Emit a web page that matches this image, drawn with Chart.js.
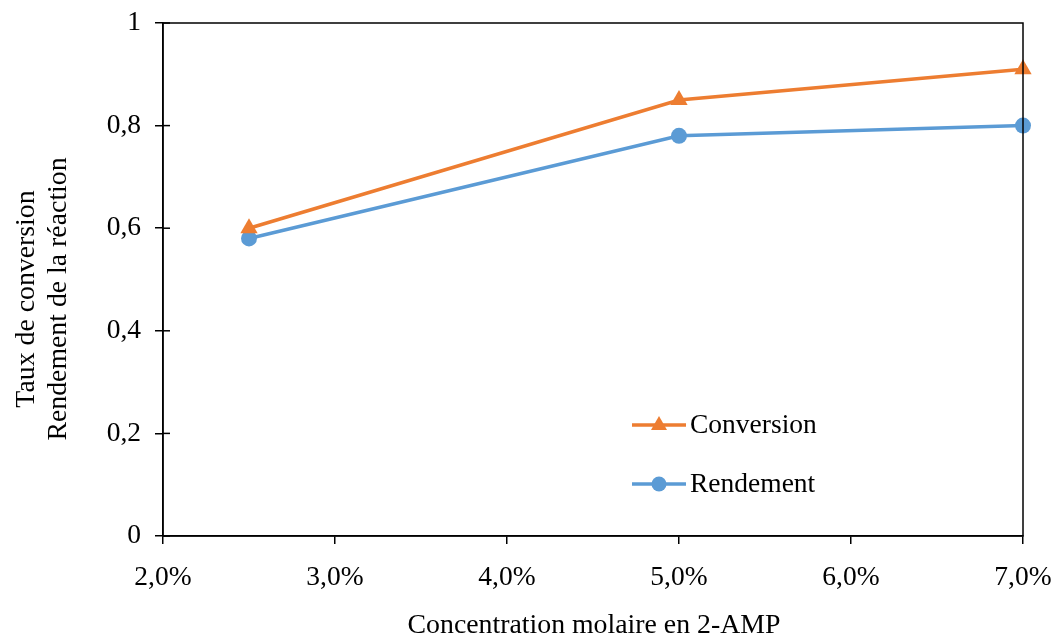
<!DOCTYPE html>
<html>
<head>
<meta charset="utf-8">
<script src="https://cdn.jsdelivr.net/npm/chart.js@4/dist/chart.umd.min.js"></script>
<style>
  html, body { margin: 0; padding: 0; background: #fff; }
  #wrap { width: 1053px; height: 639px; }
</style>
</head>
<body>
<div id="wrap"><canvas id="chart"></canvas></div>
<script>
// données
var concentrations = [2.5, 5.0, 7.0]; // % molaire
var conversion = [0.60, 0.85, 0.91];
var rendement = [0.58, 0.78, 0.80];
var seriesNames = ["Conversion", "Rendement"];
var xTitle = "Concentration molaire en 2-AMP";
var yTitle = ["Taux de conversion", "Rendement de la réaction"];

var FONT = "'Liberation Serif', 'Times New Roman', serif";
var ORANGE = "#ED7D31";
var BLUE = "#5B9BD5";

function toPoints(xs, ys) {
  return xs.map(function (x, i) { return { x: x, y: ys[i] }; });
}

// cadre, petites graduations, titres d'axes et légende
var decor = {
  id: "decor",
  afterDraw: function (c) {
    var ctx = c.ctx;
    var a = c.chartArea;
    ctx.save();
    ctx.strokeStyle = "#000";
    ctx.lineWidth = 1.5;
    ctx.strokeRect(a.left, a.top, a.right - a.left, a.bottom - a.top);

    // partie intérieure des graduations Y
    var ys = c.scales.y;
    ys.ticks.forEach(function (t) {
      var py = ys.getPixelForValue(t.value);
      ctx.beginPath();
      ctx.moveTo(a.left, py);
      ctx.lineTo(a.left + 7, py);
      ctx.stroke();
    });

    ctx.fillStyle = "#000";
    ctx.font = "27.8px " + FONT;
    ctx.textAlign = "center";
    ctx.textBaseline = "middle";
    ctx.fillText(xTitle, 594, 626);

    ctx.save();
    ctx.translate(27, 299);
    ctx.rotate(-Math.PI / 2);
    ctx.fillText(yTitle[0], 0, 0);
    ctx.restore();
    ctx.save();
    ctx.translate(59, 299);
    ctx.rotate(-Math.PI / 2);
    ctx.fillText(yTitle[1], 0, 0);
    ctx.restore();

    // légende
    ctx.font = "27.5px " + FONT;
    var items = [
      { name: seriesNames[0], color: ORANGE, style: "triangle", y: 425 },
      { name: seriesNames[1], color: BLUE, style: "circle", y: 484 }
    ];
    items.forEach(function (it) {
      ctx.strokeStyle = it.color;
      ctx.lineWidth = 3.5;
      ctx.beginPath();
      ctx.moveTo(632, it.y);
      ctx.lineTo(686, it.y);
      ctx.stroke();
      ctx.fillStyle = it.color;
      ctx.beginPath();
      if (it.style === "circle") {
        ctx.arc(659, it.y, 7.5, 0, Math.PI * 2);
      } else {
        ctx.moveTo(659, it.y - 9);
        ctx.lineTo(667, it.y + 5);
        ctx.lineTo(651, it.y + 5);
        ctx.closePath();
      }
      ctx.fill();
      ctx.fillStyle = "#000";
      ctx.textAlign = "left";
      ctx.fillText(it.name, 690, it.y + 1);
    });
    ctx.restore();
  }
};

var ctx = document.getElementById("chart").getContext("2d");
var chart = new Chart(ctx, {
  type: "line",
  data: {
    datasets: [
      {
        label: seriesNames[0],
        data: toPoints(concentrations, conversion),
        borderColor: ORANGE,
        backgroundColor: ORANGE,
        borderWidth: 3.5,
        pointStyle: "triangle",
        pointRadius: 10,
        pointBorderWidth: 0,
        clip: false,
        fill: false
      },
      {
        label: seriesNames[1],
        data: toPoints(concentrations, rendement),
        borderColor: BLUE,
        backgroundColor: BLUE,
        borderWidth: 3.5,
        pointStyle: "circle",
        pointRadius: 8,
        pointBorderWidth: 0,
        clip: false,
        fill: false
      }
    ]
  },
  options: {
    responsive: true,
    maintainAspectRatio: false,
    animation: false,
    layout: { padding: { top: 23, right: 30, left: 0, bottom: 0 } },
    plugins: {
      legend: { display: false },
      tooltip: { enabled: false }
    },
    scales: {
      x: {
        type: "linear",
        min: 2,
        max: 7,
        ticks: {
          stepSize: 1,
          color: "#000",
          padding: 17,
          font: { family: FONT, size: 27.5 },
          callback: function (v) { return v.toFixed(1).replace(".", ",") + "%"; }
        },
        grid: { display: true, drawOnChartArea: false, color: "#000", lineWidth: 1.5, tickLength: 8 },
        border: { color: "#000", width: 1.5 },
        afterFit: function (s) {
          s.height = 103;
          s.paddingLeft = 0;
          s.paddingRight = 0;
        }
      },
      y: {
        min: 0,
        max: 1,
        ticks: {
          stepSize: 0.2,
          color: "#000",
          padding: 14,
          font: { family: FONT, size: 27.5 },
          callback: function (v) { return String(Math.round(v * 10) / 10).replace(".", ","); }
        },
        grid: { display: true, drawOnChartArea: false, color: "#000", lineWidth: 1.5, tickLength: 8 },
        border: { color: "#000", width: 1.5 },
        afterFit: function (s) {
          s.width = 163;
          s.paddingTop = 0;
          s.paddingBottom = 0;
        }
      }
    }
  },
  plugins: [decor]
});
</script>
</body>
</html>
